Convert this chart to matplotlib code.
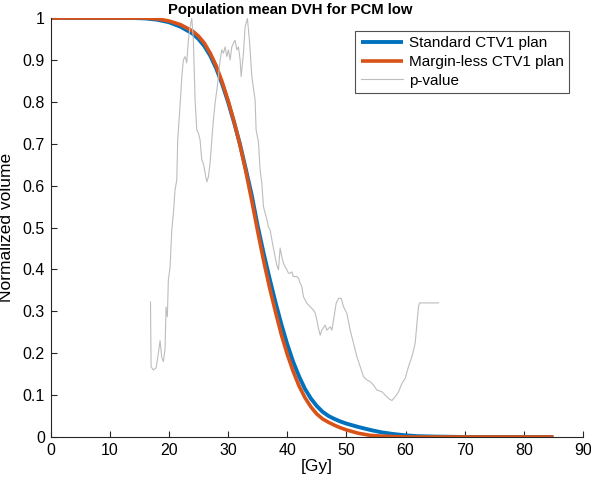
import matplotlib
matplotlib.use("Agg")
import matplotlib.pyplot as plt

plt.rcParams['font.family'] = ['Liberation Sans', 'DejaVu Sans']

# Standard CTV1 plan DVH
std_dose = [0, 14, 16, 18, 20, 22, 24, 25, 26, 27, 28, 29, 30, 31, 32, 33, 34, 35, 36, 37,
            38, 39, 40, 41, 42, 43, 44, 45, 46, 47, 48, 49, 50, 52, 54, 56, 58, 60, 62, 65,
            70, 85]
std_vol = [1.0, 1.0, 0.999, 0.996, 0.99, 0.979, 0.963, 0.95, 0.933, 0.91, 0.88, 0.843, 0.80,
           0.752, 0.70, 0.64, 0.578, 0.505, 0.44, 0.38, 0.323, 0.27, 0.222, 0.18, 0.145,
           0.115, 0.092, 0.074, 0.06, 0.05, 0.043, 0.037, 0.032, 0.024, 0.017, 0.011, 0.007,
           0.004, 0.002, 0.001, 0.0, 0.0]

# Margin-less CTV1 plan DVH
ml_dose = [0, 14, 16, 18, 20, 22, 24, 25, 26, 27, 28, 29, 30, 31, 32, 33, 34, 35, 36, 37,
           38, 39, 40, 41, 42, 43, 44, 45, 46, 47, 48, 49, 50, 52, 54, 56, 58, 60, 85]
ml_vol = [1.0, 1.0, 1.0, 0.998, 0.993, 0.984, 0.969, 0.957, 0.94, 0.916, 0.886, 0.848, 0.804,
          0.754, 0.698, 0.635, 0.565, 0.492, 0.422, 0.358, 0.30, 0.245, 0.198, 0.157, 0.122,
          0.094, 0.072, 0.055, 0.043, 0.035, 0.028, 0.022, 0.017, 0.009, 0.004, 0.002,
          0.001, 0.0, 0.0]

# p-value trace
p_dose = [16.9, 17.0, 17.35, 17.85, 18.23, 18.52, 18.8, 19.08, 19.36, 19.53, 19.75, 19.92,
          20.21, 20.5, 20.77, 21.05, 21.34, 21.5, 21.96, 22.19, 22.46, 22.75, 23.03, 23.3,
          23.59, 23.88, 24.15, 24.44, 24.72, 25.0, 25.28, 25.57, 25.84, 26.13, 26.42, 26.69,
          26.97, 27.26, 27.53, 27.82, 28.11, 28.38, 28.67, 28.95, 29.22, 29.51, 29.8, 30.07,
          30.36, 30.64, 30.92, 31.2, 31.49, 31.76, 32.05, 32.22, 32.61, 32.89, 33.28, 33.62,
          34.03, 34.58, 34.75, 35.14, 35.43, 35.72, 35.99, 36.28, 36.56, 36.83, 37.12, 37.68,
          38.25, 38.53, 38.81, 39.1, 39.37, 39.66, 39.95, 40.22, 40.5, 40.79, 41.06, 41.35,
          41.64, 41.91, 42.2, 42.48, 42.75, 43.33, 43.89, 44.44, 44.73, 45.02, 45.29, 45.58,
          45.86, 46.42, 46.71, 47.27, 47.56, 47.83, 48.28, 48.67, 49.13, 49.52, 50.09, 50.65,
          51.21, 51.78, 52.34, 52.9, 53.48, 54.03, 54.59, 55.17, 56.01, 56.57, 57.13, 57.7,
          58.26, 58.82, 59.4, 59.95, 60.51, 61.09, 61.64, 61.93, 62.2, 62.37, 65.58]
p_val = [0.322, 0.168, 0.16, 0.165, 0.20, 0.23, 0.19, 0.18, 0.21, 0.31, 0.287, 0.375,
         0.406, 0.494, 0.534, 0.59, 0.613, 0.709, 0.804, 0.86, 0.90, 0.908, 0.893, 0.947,
         0.979, 0.999, 0.947, 0.804, 0.733, 0.725, 0.709, 0.661, 0.653, 0.63, 0.609, 0.621,
         0.653, 0.709, 0.757, 0.797, 0.828, 0.86, 0.90, 0.924, 0.916, 0.931, 0.908, 0.924,
         0.90, 0.931, 0.94, 0.947, 0.924, 0.931, 0.90, 0.86, 0.916, 0.979, 0.999, 0.947,
         0.86, 0.804, 0.733, 0.705, 0.637, 0.605, 0.55, 0.534, 0.52, 0.502, 0.494, 0.45,
         0.41, 0.399, 0.451, 0.43, 0.415, 0.406, 0.399, 0.391, 0.391, 0.394, 0.383, 0.383,
         0.383, 0.379, 0.367, 0.359, 0.335, 0.319, 0.311, 0.303, 0.296, 0.279, 0.259, 0.243,
         0.255, 0.267, 0.255, 0.263, 0.255, 0.279, 0.319, 0.331, 0.331, 0.311, 0.295, 0.255,
         0.224, 0.192, 0.168, 0.144, 0.136, 0.132, 0.124, 0.112, 0.108, 0.10, 0.092, 0.087,
         0.096, 0.108, 0.128, 0.14, 0.168, 0.192, 0.224, 0.271, 0.311, 0.32, 0.32]

xticks = list(range(0, 91, 10))
yticks = [0, 0.1, 0.2, 0.3, 0.4, 0.5, 0.6, 0.7, 0.8, 0.9, 1]
ytick_labels = ['0', '0.1', '0.2', '0.3', '0.4', '0.5', '0.6', '0.7', '0.8', '0.9', '1']

fig = plt.figure(figsize=(5.91, 4.88), dpi=100)
ax = fig.add_axes([50.5 / 591, 51 / 488, (583 - 50.5) / 591, (437 - 18) / 488])

ax.plot(std_dose, std_vol, color='#0072BD', lw=2.8, label='Standard CTV1 plan', solid_capstyle='butt')
ax.plot(ml_dose, ml_vol, color='#D95319', lw=2.6, label='Margin-less CTV1 plan', solid_capstyle='butt')
ax.plot(p_dose, p_val, color='#BDBDBD', lw=0.8, label='p-value')

ax.set_xlim(0, 90)
ax.set_ylim(0, 1)
ax.set_xticks(xticks)
ax.set_yticks(yticks)
ax.set_yticklabels(ytick_labels)
for s in ['top', 'right']:
    ax.spines[s].set_visible(False)
for s in ['left', 'bottom']:
    ax.spines[s].set_color('#262626')
    ax.spines[s].set_linewidth(0.8)
ax.tick_params(direction='in', length=4, width=0.8, colors='#262626', labelsize=11.5,
               labelcolor='black', pad=4)

ax.set_xlabel('[Gy]', fontsize=12.5, labelpad=1)
ax.set_ylabel('Normalized volume', fontsize=12.5, labelpad=6)
fig.text(290 / 591, 1 - 10 / 488, 'Population mean DVH for PCM low', ha='center', va='center',
         fontsize=10.7, fontweight='bold')

leg = ax.legend(loc='upper right', bbox_to_anchor=(569 / 591, 1 - 31 / 488),
                bbox_transform=fig.transFigure, borderaxespad=0, fancybox=False,
                edgecolor='#262626', fontsize=11, handlelength=2.8, handletextpad=0.35,
                labelspacing=0.3, borderpad=0.35)
leg.get_frame().set_linewidth(0.8)

fig.savefig('out.png', dpi=100)
